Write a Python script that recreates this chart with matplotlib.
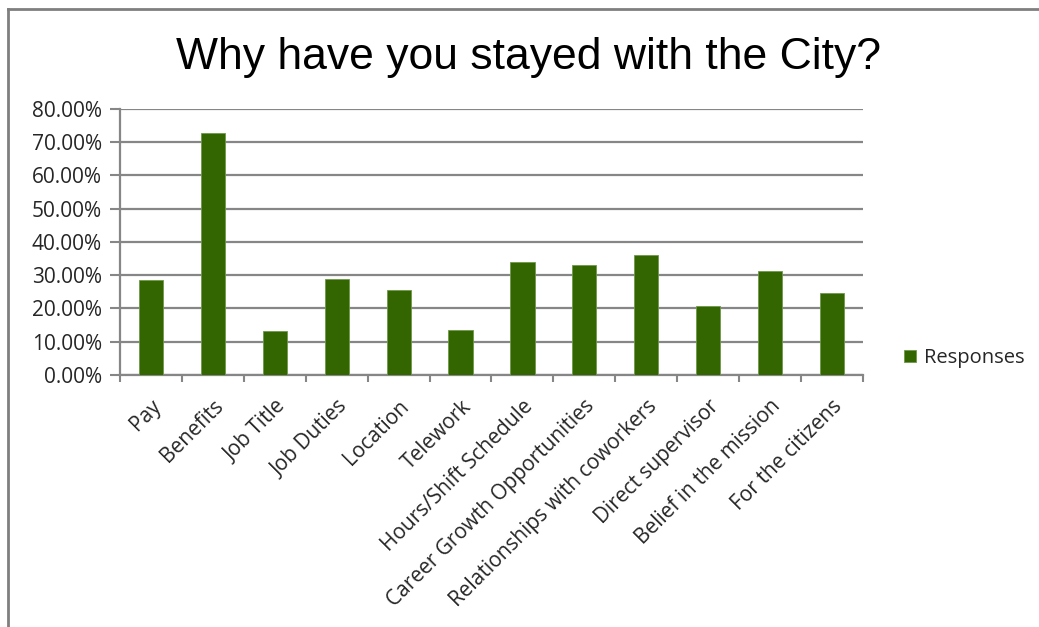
import matplotlib
matplotlib.use("Agg")
import matplotlib.pyplot as plt
from matplotlib.lines import Line2D
from matplotlib.ticker import FuncFormatter
import numpy as np

categories = ["Pay", "Benefits", "Job Title", "Job Duties", "Location", "Telework",
              "Hours/Shift Schedule", "Career Growth Opportunities",
              "Relationships with coworkers", "Direct supervisor",
              "Belief in the mission", "For the citizens"]
responses = [0.285, 0.728, 0.133, 0.289, 0.257, 0.136,
             0.339, 0.332, 0.360, 0.207, 0.314, 0.247]
y_ticks = [0.0, 0.1, 0.2, 0.3, 0.4, 0.5, 0.6, 0.7, 0.8]

bar_color = "#336600"
grid_color = "#868686"
text_color = "#262626"
label_font = ["Open Sans", "DejaVu Sans"]

fig = plt.figure(figsize=(10.39, 6.27), dpi=100)
ax = fig.add_axes([0.1155, 0.4019, 0.7151, 0.4243])

x = np.arange(len(categories))
ax.bar(x, responses, width=0.39, color=bar_color, edgecolor="#6f9a4a",
       linewidth=0.6, zorder=3, label="Responses")

ax.set_xlim(-0.5, len(categories) - 0.5)
ax.set_ylim(0, 0.8)
ax.set_yticks(y_ticks)
ax.yaxis.set_major_formatter(FuncFormatter(lambda v, _: f"{v * 100:.2f}%"))
ax.yaxis.grid(True, color=grid_color, linewidth=1.6, zorder=0)
ax.set_axisbelow(True)

# category ticks sit between the bars
ax.set_xticks(np.arange(-0.5, len(categories), 1.0))
ax.set_xticklabels([])
ax.set_xticks(x, minor=True)
ax.set_xticklabels(categories, minor=True, rotation=45, ha="right",
                   rotation_mode="anchor", fontsize=15, family=label_font)
ax.tick_params(axis="x", which="minor", length=0, pad=15)
ax.tick_params(axis="x", which="major", length=5, width=1.5, color=grid_color)
ax.tick_params(axis="y", length=7, width=1.5, color=grid_color, pad=6,
               labelsize=15)
for lbl in ax.get_yticklabels():
    lbl.set_family(label_font)
    lbl.set_color(text_color)
for lbl in ax.get_xticklabels(minor=True):
    lbl.set_color(text_color)

for side in ("top", "right"):
    ax.spines[side].set_visible(False)
for side in ("left", "bottom"):
    ax.spines[side].set_color(grid_color)
    ax.spines[side].set_linewidth(1.6)

fig.text(528.5 / 1039, 1 - 69 / 627, "Why have you stayed with the City?",
         ha="center", va="baseline", fontsize=32,
         family=["Liberation Sans", "DejaVu Sans"])

leg = fig.legend(loc="center left", bbox_to_anchor=(886 / 1039, 1 - 358 / 627),
                 frameon=False, prop={"family": label_font, "size": 14.5},
                 handlelength=0.6, handleheight=0.6, handletextpad=0.4)
for t in leg.get_texts():
    t.set_color(text_color)

# outer frame of the chart object
fig.add_artist(Line2D([8 / 1039, 8 / 1039], [0, 1 - 9 / 627],
                      transform=fig.transFigure, color="#7f7f7f", linewidth=2))
fig.add_artist(Line2D([8 / 1039, 1], [1 - 9 / 627, 1 - 9 / 627],
                      transform=fig.transFigure, color="#7f7f7f", linewidth=2))

fig.savefig("out.png", dpi=100)
